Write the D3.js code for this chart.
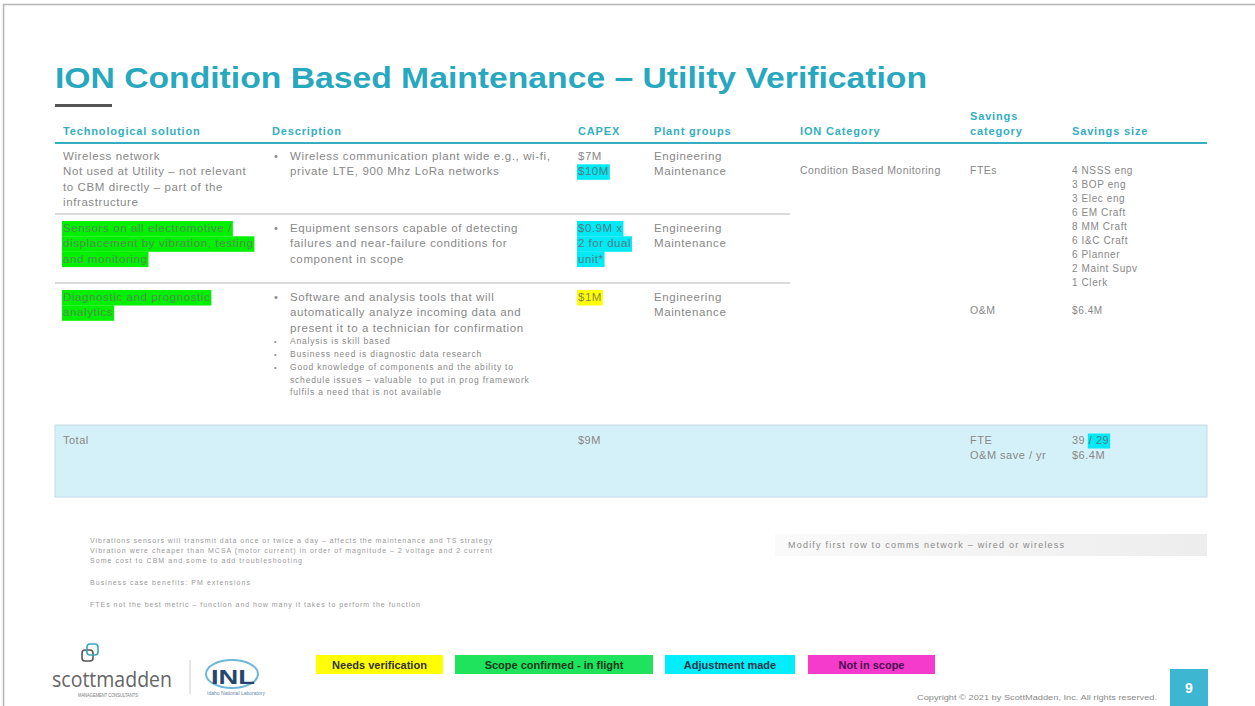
<!DOCTYPE html>
<html><head><meta charset="utf-8">
<script src="https://cdn.jsdelivr.net/npm/d3@7"></script>
<style>
body{margin:0;background:#fff;}
svg{display:block;font-family:"Liberation Sans",Arial,sans-serif;}
</style>
</head><body>
<svg id="s" width="1255" height="706"></svg>
<script>
// ---------- DATA ----------
const title = "ION Condition Based Maintenance – Utility Verification";
const columns = ["Technological solution","Description","CAPEX","Plant groups","ION Category","Savings category","Savings size"];
const headerLines = {"Savings category":["Savings","category"]};

const techSolution = [
  [{t:"Wireless network"},{t:"Not used at Utility – not relevant"},{t:"to CBM directly – part of the"},{t:"infrastructure"}],
  [{t:"Sensors on all electromotive /",h:"green"},{t:"displacement by vibration, testing",h:"green"},{t:"and monitoring",h:"green"}],
  [{t:"Diagnostic and prognostic",h:"green"},{t:"analytics",h:"green"}]
];
const description = [
  [["Wireless communication plant wide e.g., wi-fi,","private LTE, 900 Mhz LoRa networks"]],
  [["Equipment sensors capable of detecting","failures and near-failure conditions for","component in scope"]],
  [["Software and analysis tools that will","automatically analyze incoming data and","present it to a technician for confirmation"]]
];
const subBullets = [
  ["Analysis is skill based"],
  ["Business need is diagnostic data research"],
  ["Good knowledge of components and the ability to","schedule issues – valuable  to put in prog framework","fulfils a need that is not available"]
];
const capex = [
  [{t:"$7M"},{t:"$10M",h:"cyan"}],
  [{t:"$0.9M x",h:"cyan"},{t:"2 for dual",h:"cyan"},{t:"unit*",h:"cyan"}],
  [{t:"$1M",h:"yellow"}]
];
const plantGroups = [
  ["Engineering","Maintenance"],
  ["Engineering","Maintenance"],
  ["Engineering","Maintenance"]
];
const ionCategory = ["Condition Based Monitoring"];
const savingsCategory = ["FTEs","O&M"];
const savingsSize = ["4 NSSS eng","3 BOP eng","3 Elec eng","6 EM Craft","8 MM Craft","6 I&C Craft","6 Planner","2 Maint Supv","1 Clerk"];
const savingsOM = "$6.4M";
const totalLabel = "Total";
const totalCapex = "$9M";
const totalCategories = ["FTE","O&M save / yr"];
const totalSizes = [[{t:"39 "},{t:"/ 29",h:"cyan"}],[{t:"$6.4M"}]];
const notes = [
  "Vibrations sensors will transmit data once or twice a day – affects the maintenance and TS strategy",
  "Vibration were cheaper than MCSA (motor current) in order of magnitude – 2 voltage and 2 current",
  "Some cost to CBM and some to add troubleshooting",
  "Business case benefits: PM extensions",
  "FTEs not the best metric – function and how many it takes to perform the function"
];
const sideNote = "Modify first row to comms network – wired or wireless";
const legendItems = ["Needs verification","Scope confirmed - in flight","Adjustment made","Not in scope"];
const legendColors = ["#ffff00","#1fe35c","#00eefa","#f43bcb"];
const copyright = "Copyright © 2021 by ScottMadden, Inc. All rights reserved.";
const pageNumber = "9";

// ---------- STYLES / SCALES ----------
const TEAL = "#35aec0", TXT = "#888";
const hl = {green:"#00f000", cyan:"#00e9f4", yellow:"#ffff00"};
const hlText = {green:"#4f8f4f", cyan:"#4a7f86", yellow:"#8a8a40"};
const colX = d3.scaleOrdinal().domain(columns).range([63,272,578,654,800,970,1072]);
const rowY = d3.scaleOrdinal().domain([0,1,2]).range([160,232,301]);
const svg = d3.select("#s");

// slide frame
svg.append("path").attr("d","M3.5,706 V4.5 H1255").attr("fill","none").attr("stroke","#b5b5b5").attr("stroke-width",1.5);

// title
svg.append("text").attr("x",55).attr("y",88).attr("font-size",30).attr("font-weight","bold")
  .attr("fill","#27a8bf").attr("textLength",872).attr("lengthAdjust","spacingAndGlyphs").text(title);
svg.append("rect").attr("x",55).attr("y",104).attr("width",57).attr("height",3).attr("fill","#555");

// header
columns.forEach(c=>{
  const lines = headerLines[c] || [c];
  lines.forEach((l,i)=>{
    svg.append("text").attr("x",colX(c)).attr("y",135-(lines.length-1-i)*15)
      .attr("font-size",11).attr("font-weight","bold").attr("letter-spacing",0.85).attr("fill",TEAL).text(l);
  });
});
svg.append("line").attr("x1",55).attr("x2",1207).attr("y1",143).attr("y2",143).attr("stroke",TEAL).attr("stroke-width",2);

// row separators
[214,283].forEach(y=>svg.append("line").attr("x1",55).attr("x2",790).attr("y1",y).attr("y2",y).attr("stroke","#cfcfcf").attr("stroke-width",1.5));

function drawLines(x, y0, lh, lines, fs, ls){
  ls = ls || 0;
  lines.forEach((ln,i)=>{
    const y = y0 + i*lh;
    const segs = Array.isArray(ln) ? ln : [typeof ln==="string" ? {t:ln} : ln];
    let cx = x;
    segs.forEach(s=>{
      const g = svg.append("g");
      const t = g.append("text").attr("x",cx).attr("y",y).attr("font-size",fs).attr("letter-spacing",ls)
        .attr("fill", s.h ? hlText[s.h] : TXT).attr("xml:space","preserve").text(s.t);
      const w = t.node().getComputedTextLength();
      if(s.h){
        g.insert("rect","text").attr("x",cx-1).attr("y",y-fs+0.5).attr("width",w+2).attr("height",fs+4).attr("fill",hl[s.h]);
      }
      cx += w;
    });
  });
}

// body rows
techSolution.forEach((r,i)=>drawLines(colX(columns[0]), rowY(i), 15.3, r, 11.5, 0.6));
description.forEach((r,i)=>{
  svg.append("text").attr("x",274).attr("y",rowY(i)).attr("font-size",11).attr("fill",TXT).text("•");
  drawLines(colX(columns[1])+18, rowY(i), 15.3, r[0], 11.5, 0.62);
});
subBullets.forEach((b,i)=>{
  const y0 = 344 + [0,13,26][i];
  svg.append("text").attr("x",274).attr("y",y0).attr("font-size",7).attr("fill",TXT).text("•");
  drawLines(290, y0, 12.5, b, 8.5, 0.8);
});
capex.forEach((r,i)=>drawLines(colX(columns[2]), rowY(i), 15.3, r, 11.5, 0.5));
plantGroups.forEach((r,i)=>drawLines(colX(columns[3]), rowY(i), 15.3, r, 11.5, 0.6));
drawLines(colX(columns[4]), 174, 15, ionCategory, 10.5, 0.45);
drawLines(colX(columns[5]), 174, 15, [savingsCategory[0]], 10.5, 0.5);
drawLines(colX(columns[5]), 314, 15, [savingsCategory[1]], 10.5, 0.5);
drawLines(colX(columns[6]), 173.5, 14, savingsSize, 10, 0.6);
drawLines(colX(columns[6]), 314, 14, [savingsOM], 10, 0.6);

// total row
svg.append("rect").attr("x",55).attr("y",425).attr("width",1152).attr("height",72)
  .attr("fill","#d4f1f9").attr("stroke","#c4dde4").attr("stroke-width",1);
drawLines(colX(columns[0]), 444, 15, [totalLabel], 11, 0.5);
drawLines(colX(columns[2]), 444, 15, [totalCapex], 11, 0.5);
drawLines(colX(columns[5]), 444, 15, totalCategories, 11, 0.5);
drawLines(colX(columns[6]), 444, 15, totalSizes, 11, 0.5);

// notes
const noteY = [543,553,563,585,607];
const noteW = [402,402,212,160,330];
notes.forEach((n,i)=>svg.append("text").attr("x",90).attr("y",noteY[i]).attr("font-size",7).attr("fill","#9a9a9a")
  .attr("textLength",noteW[i]).attr("lengthAdjust","spacing").text(n));

// side note box
const grad = svg.append("defs").append("linearGradient").attr("id","ng");
grad.append("stop").attr("offset","0").attr("stop-color","#fafafa");
grad.append("stop").attr("offset","1").attr("stop-color","#ededed");
svg.append("rect").attr("x",775).attr("y",534).attr("width",432).attr("height",22).attr("fill","url(#ng)");
svg.append("text").attr("x",788).attr("y",548).attr("font-size",9).attr("fill","#8a8a8a")
  .attr("textLength",276).attr("lengthAdjust","spacing").text(sideNote);

// legend
const legX = d3.scaleOrdinal().domain(legendItems).range([316,455,665,808]);
const legW = d3.scaleOrdinal().domain(legendItems).range([127,198,130,127]);
const legTxt = ["#333","#1a3a1a","#1d3a4a","#4a1050"];
legendItems.forEach((d,i)=>{
  svg.append("rect").attr("x",legX(d)).attr("y",655).attr("width",legW(d)).attr("height",19).attr("fill",legendColors[i]);
  svg.append("text").attr("x",legX(d)+legW(d)/2).attr("y",669).attr("text-anchor","middle")
    .attr("font-size",11).attr("font-weight","bold").attr("fill",legTxt[i]).text(d);
});

// logos
const lg = svg.append("g");
lg.append("rect").attr("x",82).attr("y",650).attr("width",11).attr("height",11).attr("rx",3).attr("fill","none").attr("stroke","#555").attr("stroke-width",1.6);
lg.append("rect").attr("x",87).attr("y",644).attr("width",11).attr("height",11).attr("rx",3).attr("fill","none").attr("stroke","#3aa6b5").attr("stroke-width",1.6);
lg.append("text").attr("x",52).attr("y",687).attr("font-size",22).attr("font-family","'Open Sans',sans-serif")
  .attr("fill","#666").attr("textLength",120).attr("lengthAdjust","spacingAndGlyphs").text("scottmadden");
lg.append("text").attr("x",78).attr("y",697).attr("font-size",4.5).attr("fill","#777")
  .attr("textLength",60).attr("lengthAdjust","spacingAndGlyphs").text("MANAGEMENT CONSULTANTS");
lg.append("line").attr("x1",190).attr("x2",190).attr("y1",660).attr("y2",694).attr("stroke","#ccc").attr("stroke-width",1);
lg.append("ellipse").attr("cx",232).attr("cy",674).attr("rx",26).attr("ry",14).attr("fill","none").attr("stroke","#6fb7d6").attr("stroke-width",2);
lg.append("text").attr("x",211).attr("y",684).attr("font-size",21).attr("font-weight","bold").attr("fill","#26466d")
  .attr("textLength",44).attr("lengthAdjust","spacingAndGlyphs").text("INL");
lg.append("text").attr("x",207).attr("y",695).attr("font-size",4.5).attr("fill","#6a88a8")
  .attr("textLength",58).attr("lengthAdjust","spacingAndGlyphs").text("Idaho National Laboratory");

// footer
svg.append("text").attr("x",917).attr("y",700).attr("font-size",7.5).attr("fill","#8a8a8a")
  .attr("textLength",240).attr("lengthAdjust","spacingAndGlyphs").text(copyright);
svg.append("rect").attr("x",1170).attr("y",669).attr("width",38).attr("height",37).attr("fill","#3db6d1");
svg.append("text").attr("x",1189).attr("y",693).attr("text-anchor","middle").attr("font-size",14).attr("font-weight","bold").attr("fill","#fff").text(pageNumber);
</script>
</body></html>
